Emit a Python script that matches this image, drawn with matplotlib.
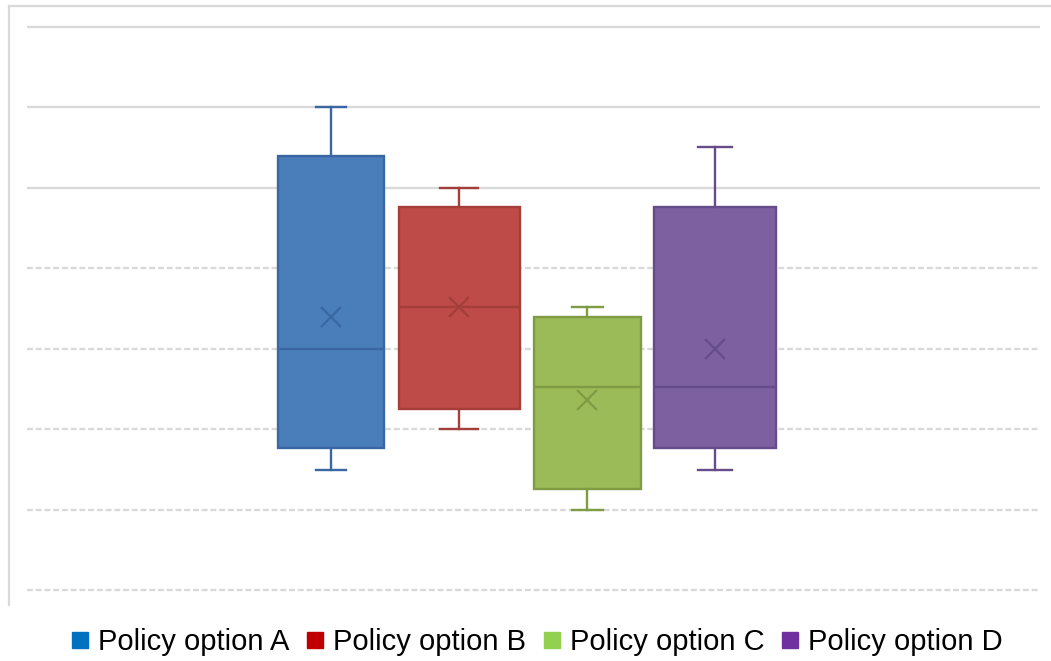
import matplotlib
matplotlib.use("Agg")
import matplotlib.pyplot as plt
from matplotlib.lines import Line2D

# ---- data ----
labels = ["Policy option A", "Policy option B", "Policy option C", "Policy option D"]
whislo = [1.49, 2.00, 1.00, 1.49]
q1 = [1.76, 2.25, 1.25, 1.76]
med = [3.00, 3.52, 2.52, 2.52]
q3 = [5.39, 4.76, 3.39, 4.76]
whishi = [6.00, 5.00, 3.52, 5.50]
means = [3.39, 3.52, 2.36, 3.00]
grid_values = [0, 1, 2, 3, 4, 5, 6, 7]

# ---- styles ----
fill_colors = ["#4a7ebb", "#be4b48", "#9bbb59", "#7d60a0"]
edge_colors = ["#3a67a2", "#a33e3b", "#7f9c45", "#654c8a"]
legend_colors = ["#0070c0", "#c00000", "#92d050", "#7030a0"]
box_widths = [0.83, 0.945, 0.836, 0.953]
cap_widths = [0.234, 0.29, 0.242, 0.273]
positions = [1, 2, 3, 4]

W, H = 1051, 661
fig = plt.figure(figsize=(W / 100, H / 100), dpi=100)
ax = fig.add_axes([9 / W, 1 - 605 / H, (W - 9) / W, (605 - 6) / H])
ax.set_xlim(-1.516, 6.625)
ax.set_ylim(-0.186, 7.255)

# gridlines
for g in grid_values:
    ls = "-" if g >= 5 else (0, (2.5, 1.2))
    ax.hlines(g, -1.375, 6.539, colors="#d9d9d9", linewidth=1.7, linestyle=ls, zorder=0)

for i in range(len(labels)):
    stats = [dict(whislo=whislo[i], q1=q1[i], med=med[i], q3=q3[i],
                  whishi=whishi[i], mean=means[i], fliers=[], label=labels[i])]
    ec = edge_colors[i]
    ax.bxp(stats, positions=[positions[i]], widths=box_widths[i],
           capwidths=cap_widths[i], patch_artist=True, showmeans=True,
           showfliers=False, manage_ticks=False,
           boxprops=dict(facecolor=fill_colors[i], edgecolor=ec, linewidth=1.7),
           whiskerprops=dict(color=ec, linewidth=1.7),
           capprops=dict(color=ec, linewidth=1.7),
           medianprops=dict(color=ec, linewidth=1.7),
           meanprops=dict(marker="x", markeredgecolor=ec, markersize=14,
                          markeredgewidth=1.6, linestyle="none"))

for side in ["right", "bottom"]:
    ax.spines[side].set_visible(False)
for side in ["left", "top"]:
    ax.spines[side].set_color("#d9d9d9")
    ax.spines[side].set_linewidth(1.6)
ax.set_xticks([])
ax.set_yticks([])

handles = [Line2D([], [], marker="s", linestyle="none", markersize=11,
                  color=c) for c in legend_colors]
fig.legend(handles, labels, loc="center", bbox_to_anchor=(0.511, 1 - 642 / H),
           ncol=4, frameon=False, handlelength=0.6, handletextpad=0.3,
           columnspacing=0.6, borderaxespad=0,
           prop=dict(family="Liberation Sans", size=21))

fig.savefig("out.png", dpi=100)
